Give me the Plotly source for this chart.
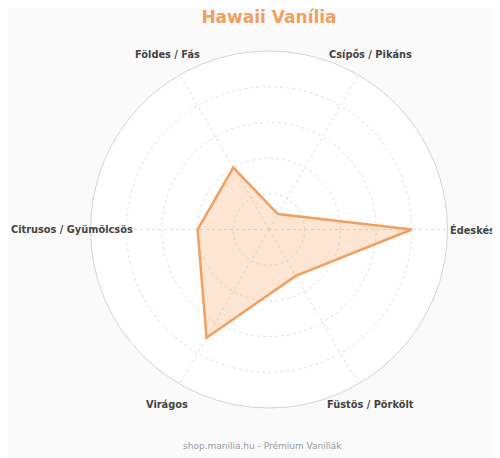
import math
import plotly.graph_objects as go

# ── Data ────────────────────────────────────────────────────────
categories = ["Édeskés", "Csípős / Pikáns", "Földes / Fás",
              "Citrusos / Gyümölcsös", "Virágos", "Füstös / Pörkölt"]
values = [8, 1, 4, 4, 7, 3]
r_max = 10

title_text = "Hawaii Vanília"
footer_text = "shop.manilia.hu - Prémium Vaníliák"

ORANGE = "#f0a060"

# ── Geometry (page has an 8px body margin, so figure is 492x450) ─
W, H = 492, 450
M_L, M_R, M_T, M_B = 80, 50, 42.5, 49.5
PLOT_W = W - M_L - M_R
PLOT_H = H - M_T - M_B
LABEL_R = 203 / 179          # label centre radius, relative to outer ring

# close the polygon
r_closed = values + values[:1]
theta_closed = categories + categories[:1]

fig = go.Figure()
fig.add_trace(go.Scatterpolar(
    r=r_closed, theta=theta_closed,
    mode="lines",
    line=dict(color=ORANGE, width=2.5),
    fill="toself", fillcolor="rgba(245,170,110,0.3)",
    hoverinfo="skip", showlegend=False
))

# category labels, centred a bit outside the outer ring
radius_px = PLOT_H / 2
cx = M_L + PLOT_W / 2
cy = M_T + PLOT_H / 2
annotations = []
for i, cat in enumerate(categories):
    ang = math.radians(360 / len(categories) * i)
    px = cx + LABEL_R * radius_px * math.cos(ang)
    py = cy - LABEL_R * radius_px * math.sin(ang)
    anchor = "center"
    if i == 3:                # long left label: keep it inside the page
        px, anchor = 1, "left"
    annotations.append(dict(
        text=cat, xref="paper", yref="paper",
        x=(px - M_L) / PLOT_W, y=(H - M_B - py) / PLOT_H,
        xanchor=anchor, yanchor="middle", showarrow=False,
        font=dict(size=9.8, color="#444", weight="bold")
    ))

annotations.append(dict(text=footer_text, xref="paper", yref="paper",
                        x=0.483, y=-0.1075, xanchor="center", yanchor="middle",
                        showarrow=False, font=dict(size=9, color="#999")))

fig.update_layout(
    width=W, height=H,
    paper_bgcolor="#fafafa",
    font=dict(family="DejaVu Sans", color="#444"),
    margin=dict(l=M_L, r=M_R, t=M_T, b=M_B),
    title=dict(text=title_text, x=0.5305, xanchor="center", y=0.981, yanchor="middle",
               font=dict(size=17, color=ORANGE, weight="bold")),
    polar=dict(
        bgcolor="white",
        radialaxis=dict(range=[0, r_max], dtick=2, showticklabels=False, ticks="",
                        showline=False, gridcolor="#dcdfe4", griddash="3px,3px",
                        gridwidth=1),
        angularaxis=dict(direction="counterclockwise", rotation=0,
                         showticklabels=False,
                         linecolor="#d4d4d4", linewidth=1,
                         gridcolor="#dcdfe4", griddash="3px,3px", ticks=""),
    ),
    annotations=annotations,
)

fig.write_html("out.html")
